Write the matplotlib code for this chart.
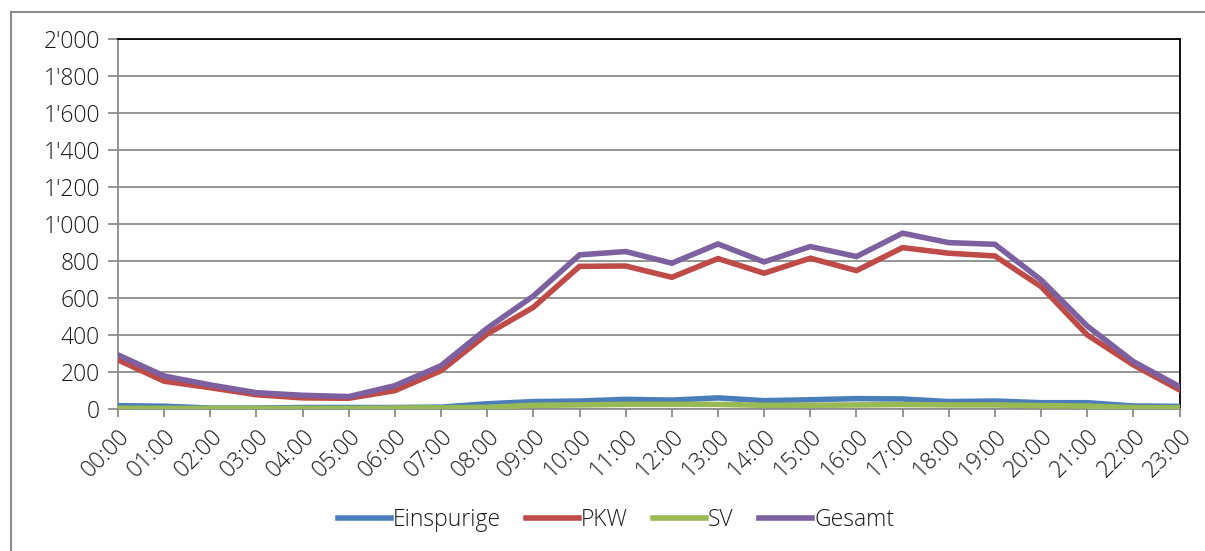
import matplotlib.pyplot as plt
from matplotlib.ticker import FuncFormatter, MultipleLocator
from matplotlib.lines import Line2D

plt.rcParams['font.family'] = ['Open Sans', 'DejaVu Sans']

# DATA
hours = ['%02d:00' % h for h in range(24)]
einspurige = [18, 15, 5, 5, 8, 8, 8, 10, 28, 40, 43, 52, 48, 60, 45, 50, 56, 54, 40, 43, 34, 34, 16, 14]
pkw = [265, 150, 115, 77, 60, 58, 99, 207, 405, 549, 770, 772, 711, 812, 733, 814, 747, 871, 841, 826, 661, 400, 238, 103]
sv = [4, 3, 3, 3, 3, 3, 5, 6, 9, 20, 22, 25, 25, 25, 20, 20, 22, 24, 22, 22, 18, 16, 7, 6]
gesamt = [292, 178, 130, 88, 74, 67, 126, 234, 436, 610, 832, 850, 787, 891, 794, 877, 823, 949, 898, 889, 697, 448, 256, 121]

series = [('Einspurige', einspurige, '#4a7ebb'),
          ('PKW', pkw, '#be4b48'),
          ('SV', sv, '#98b954'),
          ('Gesamt', gesamt, '#7d60a0')]

W, H = 1205, 551
FS = 16.5
fig = plt.figure(figsize=(W / 100, H / 100), dpi=100)
ax = fig.add_axes([118 / W, 1 - 409 / H, (1179.5 - 118) / W, (409 - 38.5) / H])

x = list(range(len(hours)))
for name, vals, col in series:
    ax.plot(x, vals, color=col, lw=4, solid_joinstyle='miter', label=name, zorder=3)

ax.set_xlim(0, 23)
ax.set_ylim(0, 2000)
ax.yaxis.set_major_locator(MultipleLocator(200))
ax.yaxis.set_major_formatter(FuncFormatter(lambda v, p: ('%d' % v) if v < 1000 else "%d'%03d" % (v // 1000, v % 1000)))
ax.grid(axis='y', color='#8c8c8c', lw=1.3)
ax.set_axisbelow(True)

ax.set_xticks(x)
ax.set_xticklabels(hours, rotation=45, ha='right', va='top', rotation_mode='anchor')
ax.tick_params(axis='x', length=6, width=1.3, color='#8c8c8c', labelsize=FS, pad=5)
ax.tick_params(axis='y', length=7, width=1.3, color='#8c8c8c', labelsize=FS, pad=6)
for lab in ax.get_xticklabels() + ax.get_yticklabels():
    lab.set_color('#1a1a1a')
    lab.set_fontweight('light')

for s in ['left', 'bottom']:
    ax.spines[s].set_color('#8c8c8c')
    ax.spines[s].set_linewidth(1.3)
for s in ['top', 'right']:
    ax.spines[s].set_color('black')
    ax.spines[s].set_linewidth(1.3)

# outer chart border (only top and left visible)
fig.add_artist(Line2D([10.5 / W, 1], [1 - 12 / H, 1 - 12 / H], color='#8c8c8c', lw=1.5))
fig.add_artist(Line2D([10.5 / W, 10.5 / W], [0, 1 - 12 / H], color='#8c8c8c', lw=1.5))

leg = fig.legend(loc='center', bbox_to_anchor=(616 / W, 1 - 520 / H), ncol=4, frameon=False,
                 fontsize=FS, handlelength=2.3, handletextpad=0.1, columnspacing=1.1)
for t in leg.get_texts():
    t.set_color('#1a1a1a')
    t.set_fontweight('light')

plt.savefig('out.png', dpi=100)
plt.close()
